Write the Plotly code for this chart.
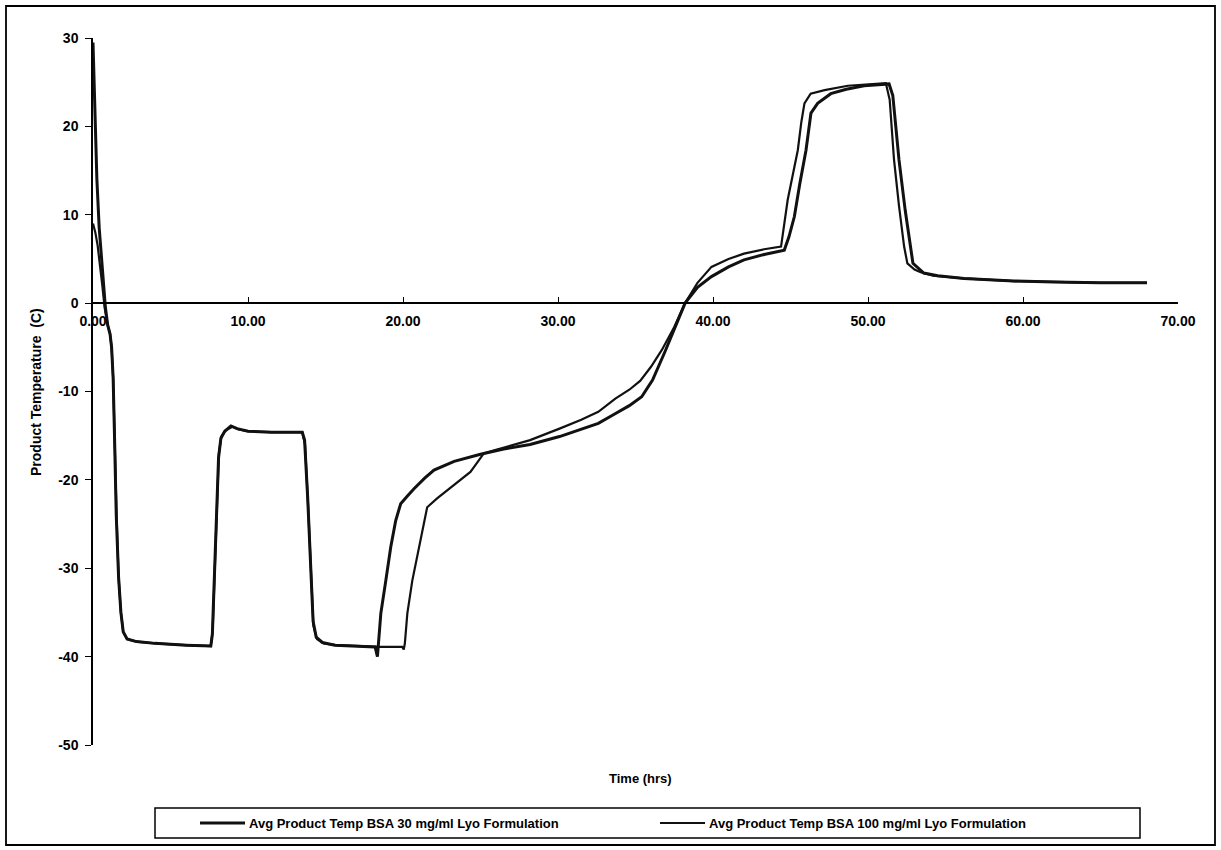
import plotly.graph_objects as go

# Lyophilisation cycle: average product temperature for two BSA formulations
series_names = [
    "Avg Product Temp BSA 30 mg/ml Lyo Formulation",
    "Avg Product Temp BSA 100 mg/ml Lyo Formulation",
]

time_30 = [
    0.00, 0.10, 0.25, 0.40, 0.55, 0.70, 0.80, 0.95, 1.10, 1.20, 1.30, 1.40, 1.50,
    1.65, 1.80, 1.95, 2.20, 2.80, 4.00, 6.00, 7.60, 7.70, 7.85, 8.00, 8.10, 8.25,
    8.50, 8.90, 9.30, 10.00, 11.50, 13.50, 13.65, 13.85, 14.05, 14.20, 14.40,
    14.80, 15.60, 17.00, 18.20, 18.35, 18.57, 18.89, 19.21, 19.53, 19.85, 20.30,
    20.71, 21.40, 22.00, 23.30, 25.00, 26.50, 28.20, 30.10, 31.50, 32.60, 33.60,
    34.60, 35.40, 36.10, 36.90, 37.60, 38.20, 39.00, 39.90, 41.00, 42.00, 43.30,
    44.60, 44.90, 45.25, 45.60, 46.00, 46.32, 46.75, 47.60, 48.60, 49.75, 51.36,
    51.60, 52.00, 52.40, 52.75, 52.90, 53.60, 54.50, 56.20, 59.40, 62.00, 65.00,
    68.00,
]
temp_30 = [
    29.5, 22.0, 14.0, 8.5, 5.0, 1.5, -0.5, -2.5, -3.5, -5.0, -8.5, -16.0, -24.0,
    -31.0, -35.0, -37.2, -38.0, -38.3, -38.5, -38.7, -38.8, -37.5, -30.0, -22.0,
    -17.5, -15.3, -14.5, -13.9, -14.2, -14.5, -14.6, -14.6, -15.5, -22.0, -31.0,
    -36.0, -37.8, -38.4, -38.7, -38.8, -38.9, -40.0, -35.1, -31.4, -27.6, -24.6,
    -22.7, -21.8, -21.0, -19.8, -18.9, -17.9, -17.1, -16.5, -16.0, -15.1, -14.3,
    -13.6, -12.6, -11.6, -10.6, -8.7, -5.5, -2.6, 0.0, 1.8, 3.0, 4.1, 4.9, 5.5,
    6.0, 7.5, 9.8, 13.5, 17.3, 21.5, 22.6, 23.7, 24.2, 24.6, 24.8, 23.5, 16.2,
    10.5, 6.4, 4.5, 3.4, 3.1, 2.8, 2.5, 2.4, 2.3, 2.3,
]

time_100 = [
    0.00, 0.15, 0.30, 0.45, 0.60, 0.75, 0.95, 1.10, 1.20, 1.30, 1.40, 1.52, 1.65,
    1.80, 1.95, 2.20, 2.80, 4.00, 6.00, 7.60, 7.72, 7.87, 8.02, 8.12, 8.28, 8.55,
    9.00, 9.40, 10.00, 11.50, 13.50, 13.68, 13.88, 14.08, 14.22, 14.45, 14.90,
    15.70, 17.00, 18.50, 19.95, 20.05, 20.12, 20.28, 20.60, 21.03, 21.35, 21.56,
    22.20, 22.85, 23.60, 24.35, 24.89, 25.21, 26.00, 26.80, 28.20, 30.10, 31.50,
    32.60, 33.70, 34.60, 35.30, 36.00, 36.70, 37.50, 38.20, 39.00, 39.90, 41.00,
    42.00, 43.30, 44.39, 44.82, 45.47, 45.70, 45.90, 46.30, 47.20, 48.70, 51.15,
    51.40, 51.68, 52.00, 52.33, 52.54, 53.00, 53.40, 54.20, 56.20, 59.40, 62.00,
    65.00, 68.00,
]
temp_100 = [
    9.0, 8.0, 6.5, 4.5, 2.0, -0.5, -2.5, -3.5, -5.0, -8.5, -16.0, -24.0, -31.0,
    -35.0, -37.2, -38.0, -38.3, -38.5, -38.7, -38.8, -37.0, -29.0, -21.0, -17.0,
    -15.1, -14.4, -14.0, -14.3, -14.5, -14.6, -14.6, -16.0, -23.0, -32.0, -36.5,
    -38.0, -38.5, -38.7, -38.8, -38.9, -38.9, -39.2, -38.5, -35.1, -31.4, -27.6,
    -24.6, -23.1, -22.1, -21.2, -20.1, -19.1, -17.8, -17.0, -16.6, -16.2, -15.5,
    -14.2, -13.2, -12.3, -10.8, -9.8, -8.8, -7.2, -5.3, -2.7, 0.0, 2.3, 4.1, 5.0,
    5.6, 6.1, 6.4, 11.7, 17.3, 20.5, 22.6, 23.7, 24.1, 24.6, 24.9, 23.0, 16.2,
    11.0, 6.4, 4.5, 3.8, 3.5, 3.1, 2.8, 2.5, 2.4, 2.3, 2.3,
]

x_ticks = [0, 10, 20, 30, 40, 50, 60, 70]
y_ticks = [30, 20, 10, 0, -10, -20, -30, -40, -50]

W, H = 1221, 850
PL, PR, PT, PB = 93, 1178, 38, 745  # plot-area edges in pixels

FONT = "Liberation Sans Narrow, Arial Narrow, Liberation Sans, Arial, sans-serif"


def px(x):
    return (x - PL) / (PR - PL)


def py(y):
    return (PB - y) / (PB - PT)


fig = go.Figure()
fig.add_trace(go.Scatter(x=time_30, y=temp_30, mode="lines", name=series_names[0],
                         line=dict(color="#111111", width=3.0), showlegend=False))
fig.add_trace(go.Scatter(x=time_100, y=temp_100, mode="lines", name=series_names[1],
                         line=dict(color="#111111", width=2.2), showlegend=False))

fig.update_layout(
    width=W, height=H,
    margin=dict(l=PL, r=W - PR, t=PT, b=H - PB),
    paper_bgcolor="white", plot_bgcolor="white",
    font=dict(family=FONT, color="black", size=13),
    xaxis=dict(
        range=[0, 70], tickvals=x_ticks, ticktext=[f"{v:.2f}" for v in x_ticks],
        showgrid=False, zeroline=False, showline=True, linecolor="black",
        linewidth=1.5, ticks="inside", ticklen=5, tickcolor="black",
        anchor="free", position=50 / 80, ticklabelstandoff=5,
        tickfont=dict(family=FONT, size=14, weight=700, color="black"),
    ),
    yaxis=dict(
        range=[-50, 30], tickvals=y_ticks, ticktext=[str(v) for v in y_ticks],
        showgrid=False, zeroline=False, showline=True, linecolor="black",
        linewidth=1.5, ticks="outside", ticklen=6, tickcolor="black",
        ticklabelstandoff=4,
        tickfont=dict(family=FONT, size=14, weight=700, color="black"),
    ),
)

# axis titles
fig.add_annotation(text="Product Temperature  (C)", textangle=-90,
                   x=px(36), y=py(392), xref="paper", yref="paper",
                   xanchor="center", yanchor="middle", showarrow=False,
                   font=dict(family=FONT, size=14, weight=700))
fig.add_annotation(text="Time (hrs)", x=px(640), y=py(778), xref="paper",
                   yref="paper", xanchor="center", yanchor="middle",
                   showarrow=False, font=dict(family=FONT, size=13, weight=700))

# outer chart frame
fig.add_shape(type="rect", xref="paper", yref="paper",
              x0=px(6), x1=px(1215), y0=py(845), y1=py(6),
              line=dict(color="black", width=1.8), fillcolor="rgba(0,0,0,0)")

# legend box with line samples
fig.add_shape(type="rect", xref="paper", yref="paper",
              x0=px(155), x1=px(1140), y0=py(838), y1=py(808),
              line=dict(color="black", width=1.5), fillcolor="white")
legend_items = [(200, 245, 3.0), (660, 705, 2.2)]
for name, (lx0, lx1, lw) in zip(series_names, legend_items):
    fig.add_shape(type="line", xref="paper", yref="paper",
                  x0=px(lx0), x1=px(lx1), y0=py(823), y1=py(823),
                  line=dict(color="#111111", width=lw))
    fig.add_annotation(text=name, x=px(lx1 + 2), y=py(823), xref="paper",
                       yref="paper", xanchor="left", yanchor="middle",
                       showarrow=False,
                       font=dict(family=FONT, size=13, weight=700))

fig.write_html("out.html")
